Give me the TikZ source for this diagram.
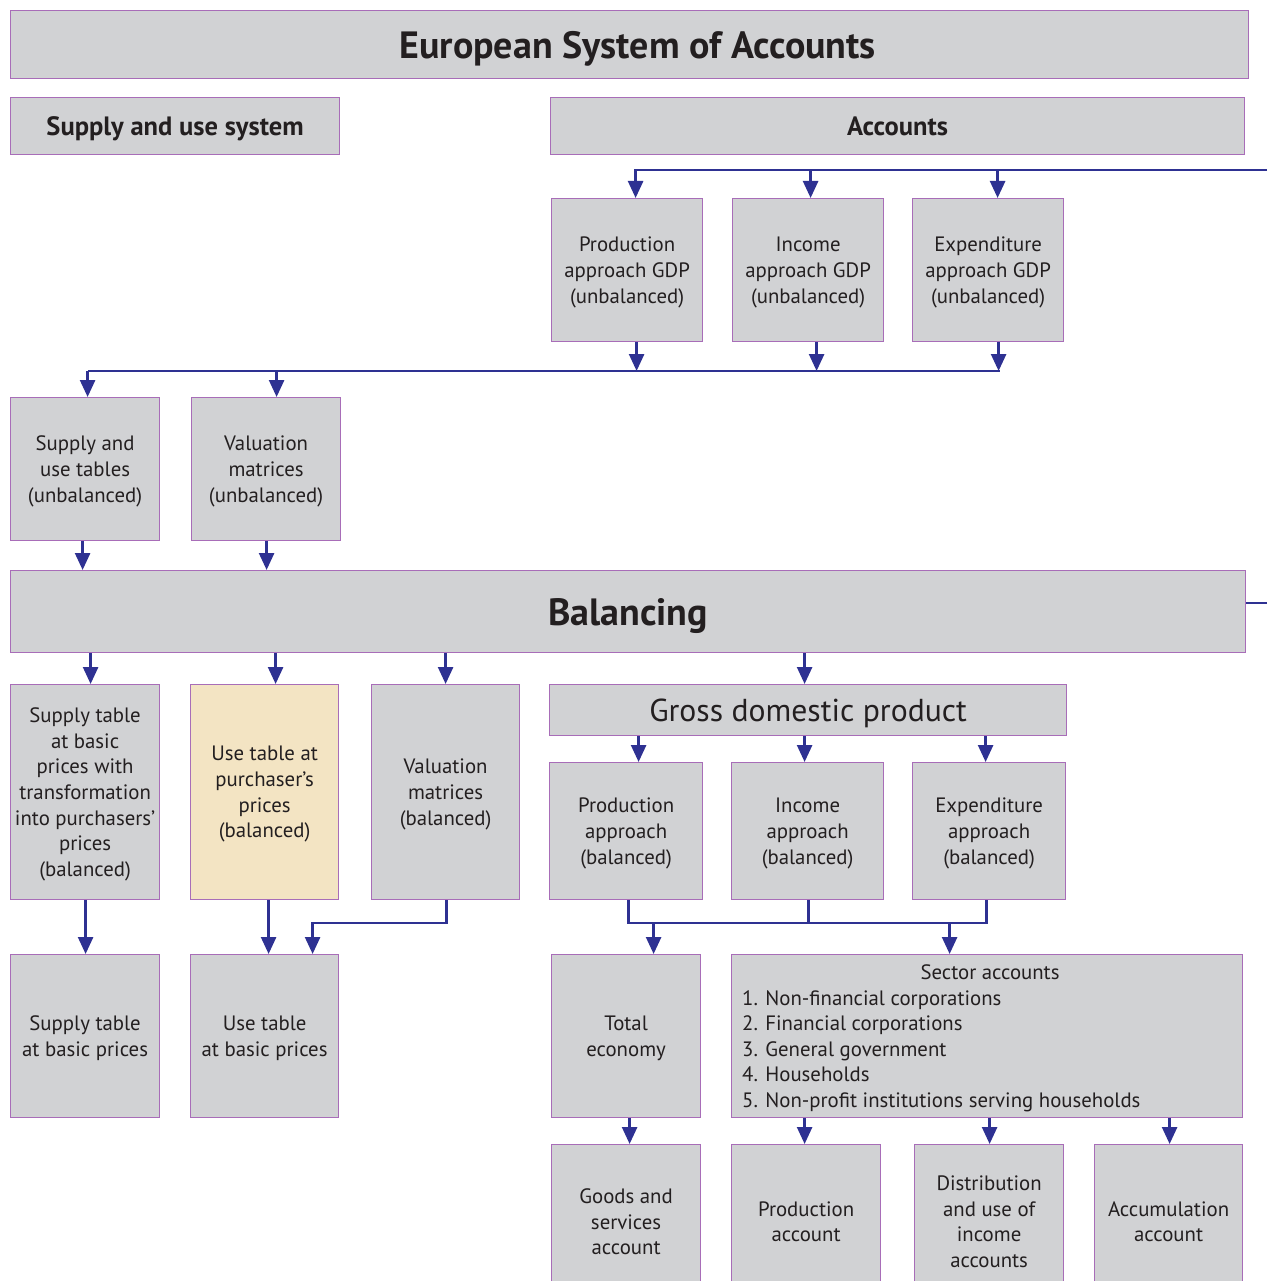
\documentclass[tikz,border=0pt]{standalone}
\usepackage{fontspec}
\setmainfont{PT Sans}
\usetikzlibrary{arrows.meta,calc}
\definecolor{boxfill}{HTML}{D1D2D4}
\definecolor{boxline}{HTML}{A86DB8}
\definecolor{linkblue}{HTML}{2E3192}
\definecolor{hilite}{HTML}{F3E4C3}
\definecolor{ink}{HTML}{231F20}
\begin{document}
\begin{tikzpicture}[x=1pt,y=-1pt,
  box/.style={draw=boxline, fill=boxfill, line width=1.2pt, anchor=north west,
    inner sep=2pt, align=center, text=ink, text depth=0pt, font=\fontsize{20.8}{25.7}\selectfont},
  head/.style={font=\fontsize{38}{42}\selectfont\bfseries},
  subhead/.style={font=\fontsize{26.5}{30}\selectfont\bfseries},
  link/.style={draw=linkblue, line width=2.6pt},
  arr/.style={link, -{Triangle[width=15pt,length=17pt]}},
  lst/.style={anchor=base west, inner sep=0pt, text=ink, font=\fontsize{20.8}{25.7}\selectfont}]
\useasboundingbox (0,0) rectangle (1267,1281);
\begin{scope}
\clip (0,0) rectangle (1267,1281);

% ---------- headings ----------
\node[box, head, minimum width=1238pt, minimum height=68pt] (title) at (10,10) {\hspace{16pt}European System of Accounts};
\node[box, subhead, minimum width=329pt, minimum height=57pt] (sus) at (10,97) {Supply and use system};
\node[box, subhead, minimum width=694pt, minimum height=57pt] (acc) at (550,97) {Accounts};

% ---------- unbalanced GDP approaches ----------
\node[box, minimum width=151pt, minimum height=143pt] (pgu) at (551,198) {Production\\approach GDP\\(unbalanced)};
\node[box, minimum width=151pt, minimum height=143pt] (igu) at (732,198) {Income\\approach GDP\\(unbalanced)};
\node[box, minimum width=151pt, minimum height=143pt] (egu) at (912,198) {Expenditure\\approach GDP\\(unbalanced)};

% ---------- unbalanced tables ----------
\node[box, minimum width=149pt, minimum height=143pt] (sut) at (10,397) {Supply and\\use tables\\(unbalanced)};
\node[box, minimum width=149pt, minimum height=143pt] (vmu) at (191,397) {Valuation\\matrices\\(unbalanced)};

% ---------- balancing ----------
\node[box, head, minimum width=1235pt, minimum height=82pt] (bal) at (10,570) {Balancing};

% ---------- balanced tables ----------
\node[box, minimum width=149pt, minimum height=215pt] (stb) at (10,684) {Supply table\\at basic\\prices with\\transformation\\into purchasers’\\prices\\(balanced)};
\node[box, fill=hilite, minimum width=148pt, minimum height=215pt] (utp) at (190,684) {Use table at\\purchaser’s\\prices\\(balanced)};
\node[box, minimum width=148pt, minimum height=215pt] (vmb) at (371,684) {Valuation\\matrices\\(balanced)};

% ---------- GDP ----------
\node[box, font=\fontsize{31.7}{36}\selectfont, minimum width=517pt, minimum height=51pt] (gdp) at (549,684) {Gross domestic product};
\node[box, minimum width=153pt, minimum height=137pt] (pab) at (549,762) {Production\\approach\\(balanced)};
\node[box, minimum width=152pt, minimum height=137pt] (iab) at (731,762) {Income\\approach\\(balanced)};
\node[box, minimum width=153pt, minimum height=137pt] (eab) at (912,762) {Expenditure\\approach\\(balanced)};

% ---------- final tables and accounts ----------
\node[box, minimum width=149pt, minimum height=163pt] (stbp) at (10,954) {Supply table\\at basic prices};
\node[box, minimum width=148pt, minimum height=163pt] (utbp) at (190,954) {Use table\\at basic prices};
\node[box, minimum width=149pt, minimum height=163pt] (tot) at (551,954) {Total\\economy};
\node[box, minimum width=511pt, minimum height=163pt] (sec) at (731,954) {};
\node[lst, anchor=base] (sech) at (990,979) {Sector accounts};
\node[lst] (s1) at (742,1005) {1. Non-financial corporations};
\node[lst] (s2) at (742,1030.5) {2. Financial corporations};
\node[lst] (s3) at (742,1056) {3. General government};
\node[lst] (s4) at (742,1081.5) {4. Households};
\node[lst] (s5) at (742,1107) {5. Non-profit institutions serving households};

\node[box, minimum width=149pt, minimum height=154pt] (gsa) at (551,1144) {Goods and\\services\\account};
\node[box, minimum width=149pt, minimum height=154pt] (pac) at (731,1144) {Production\\account};
\node[box, minimum width=149pt, minimum height=154pt] (dua) at (914,1144) {Distribution\\and use of\\income\\accounts};
\node[box, minimum width=148pt, minimum height=154pt] (aca) at (1094,1144) {Accumulation\\account};

% ---------- connectors ----------
% feed into the accounts row
\coordinate (inA) at (1267,170);
\draw[arr] (inA) -| ([xshift=8.5pt]pgu.north);
\draw[arr] ([xshift=2.5pt]igu.north |- inA) -- ([xshift=2.5pt]igu.north);
\draw[arr] ([xshift=9.5pt]egu.north |- inA) -- ([xshift=9.5pt]egu.north);

% unbalanced approaches down to the table bus
\coordinate (busB) at (998,371);
\draw[arr] ([xshift=9.5pt]pgu.south) -- ([xshift=9.5pt]pgu.south |- busB);
\draw[arr] ([xshift=8.5pt]igu.south) -- ([xshift=8.5pt]igu.south |- busB);
\draw[arr] ([xshift=10.5pt]egu.south) -- ([xshift=10.5pt]egu.south |- busB);
\draw[link] ([xshift=10.5pt,yshift=1.3pt]egu.south |- busB) -- ([xshift=10.5pt]egu.south |- busB) -| ([xshift=2.5pt]sut.north |- busB);
\draw[arr] ([xshift=2.5pt]sut.north |- busB) -- ([xshift=2.5pt]sut.north);
\draw[arr] ([xshift=10.5pt]vmu.north |- busB) -- ([xshift=10.5pt]vmu.north);

% unbalanced tables into balancing
\draw[arr] ([xshift=-2.5pt]sut.south) -- ([xshift=-2.5pt]sut.south |- bal.north);
\draw[arr] ([xshift=0.5pt]vmu.south) -- ([xshift=0.5pt]vmu.south |- bal.north);
\coordinate (outB) at (1267,603);
\draw[link] (outB) -- (outB -| bal.east);

% balancing outputs
\draw[arr] ([xshift=5.5pt]stb.north |- bal.south) -- ([xshift=5.5pt]stb.north);
\draw[arr] ([xshift=11pt]utp.north |- bal.south) -- ([xshift=11pt]utp.north);
\draw[arr] (vmb.north |- bal.south) -- (vmb.north);
\draw[arr] ([xshift=-3.5pt]gdp.north |- bal.south) -- ([xshift=-3.5pt]gdp.north);

% GDP approaches
\draw[arr] ([xshift=12.5pt]pab.north |- gdp.south) -- ([xshift=12.5pt]pab.north);
\draw[arr] ([xshift=-3pt]iab.north |- gdp.south) -- ([xshift=-3pt]iab.north);
\draw[arr] ([xshift=-3.5pt]eab.north |- gdp.south) -- ([xshift=-3.5pt]eab.north);

% balanced tables to basic-price tables
\draw[arr] ([xshift=0.5pt]stb.south) -- ([xshift=0.5pt]stbp.north);
\draw[arr] ([xshift=4pt]utp.south) -- ([xshift=4pt]utp.south |- utbp.north);
\coordinate (busC) at (446,923);
\draw[arr] ([xshift=1pt]vmb.south) -- ([xshift=1pt]vmb.south |- busC) -| ([xshift=48pt]utbp.north);

% balanced approaches to total economy and sectors
\coordinate (busD) at (628,923);
\draw[link] ([xshift=2.5pt]pab.south) -- ([xshift=2.5pt]pab.south |- busD) -| ([xshift=-2.5pt]eab.south);
\draw[link] ([xshift=1pt]iab.south) -- ([xshift=1pt]iab.south |- busD);
\draw[arr] ([xshift=27.5pt]tot.north |- busD) -- ([xshift=27.5pt]tot.north);
\draw[arr] ([xshift=-37.5pt]sec.north |- busD) -- ([xshift=-37.5pt]sec.north);

% down to the accounts
\draw[arr] ([xshift=3.5pt]tot.south) -- ([xshift=3.5pt]gsa.north);
\draw[arr] ([xshift=-1.5pt]pac.north |- sec.south) -- ([xshift=-1.5pt]pac.north);
\draw[arr] ([xshift=0.5pt]dua.north |- sec.south) -- ([xshift=0.5pt]dua.north);
\draw[arr] ([xshift=1pt]aca.north |- sec.south) -- ([xshift=1pt]aca.north);
\end{scope}
\end{tikzpicture}
\end{document}
